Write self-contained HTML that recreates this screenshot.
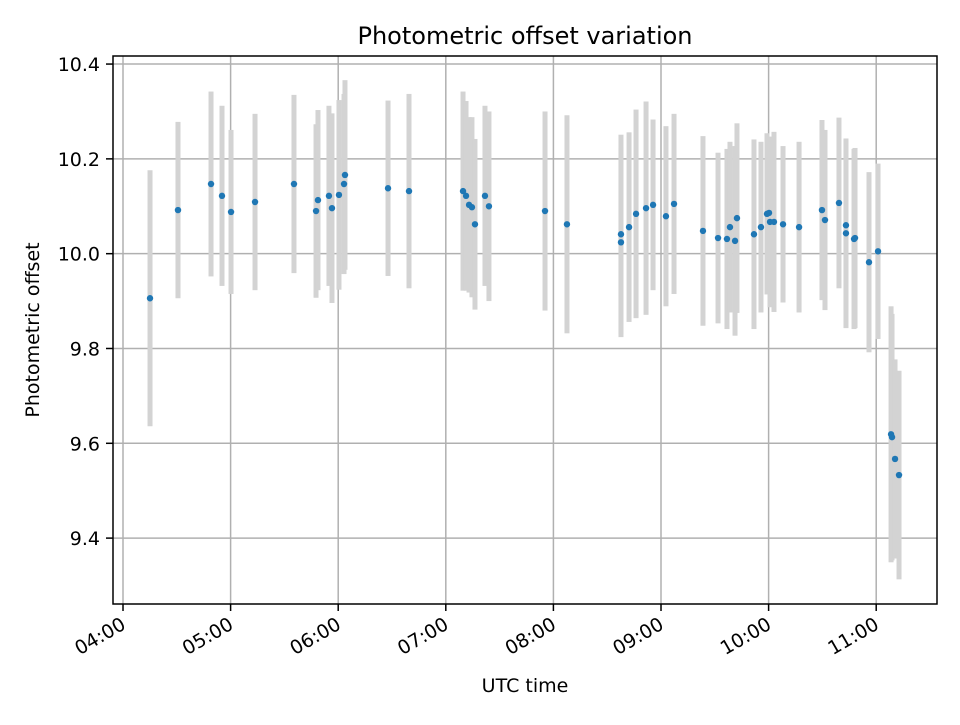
<!DOCTYPE html>
<html><head><meta charset="utf-8"><style>
body{margin:0;background:#fff}
svg text{font-family:"DejaVu Sans","Liberation Sans",sans-serif;fill:#000}
</style></head><body>
<svg id="chart" width="960" height="720" xmlns="http://www.w3.org/2000/svg">
<rect width="960" height="720" fill="#fff"/>
<g id="grid"></g><g id="bars"></g><g id="points"></g><g id="axes"></g>
<text x="525" y="44" font-size="24" text-anchor="middle">Photometric offset variation</text>
<text x="525" y="692" font-size="19" text-anchor="middle">UTC time</text>
<text transform="translate(39,330) rotate(-90)" font-size="19" text-anchor="middle">Photometric offset</text>
</svg>
<script>
const times=[4.251,4.511,4.818,4.920,5.004,5.227,5.589,5.794,5.812,5.914,5.942,6.007,6.054,6.063,6.463,6.658,7.160,7.188,7.216,7.243,7.271,7.364,7.401,7.922,8.126,8.628,8.628,8.703,8.768,8.861,8.926,9.046,9.121,9.390,9.530,9.613,9.641,9.688,9.706,9.864,9.929,9.985,10.004,10.013,10.050,10.134,10.283,10.496,10.524,10.654,10.719,10.719,10.794,10.803,10.933,11.017,11.138,11.147,11.175,11.212];
const offsets=[9.906,10.092,10.147,10.122,10.088,10.109,10.147,10.090,10.113,10.122,10.096,10.124,10.147,10.166,10.138,10.132,10.132,10.122,10.103,10.098,10.062,10.122,10.100,10.090,10.062,10.041,10.024,10.056,10.084,10.096,10.103,10.079,10.105,10.048,10.033,10.031,10.056,10.027,10.075,10.041,10.056,10.084,10.086,10.067,10.067,10.062,10.056,10.092,10.071,10.107,10.060,10.043,10.031,10.033,9.982,10.005,9.619,9.613,9.567,9.533];
const errors=[0.27,0.186,0.195,0.19,0.173,0.186,0.188,0.183,0.19,0.19,0.2,0.2,0.19,0.2,0.185,0.205,0.21,0.2,0.185,0.19,0.18,0.19,0.2,0.21,0.23,0.21,0.2,0.2,0.22,0.225,0.18,0.19,0.19,0.2,0.18,0.19,0.18,0.2,0.2,0.2,0.18,0.17,0.16,0.18,0.19,0.165,0.18,0.19,0.19,0.18,0.18,0.2,0.19,0.19,0.19,0.185,0.27,0.26,0.21,0.22];
const yTicks=[9.4,9.6,9.8,10.0,10.2,10.4];
const yTickLabels=["9.4","9.6","9.8","10.0","10.2","10.4"];
const xTicks=[4,5,6,7,8,9,10,11];
const xTickLabels=["04:00","05:00","06:00","07:00","08:00","09:00","10:00","11:00"];
const L=113,R=937,T=56,B=604,x0=3.907,x1=11.565,y0=9.261,y1=10.417;
const sx=t=>L+(t-x0)/(x1-x0)*(R-L);
const sy=v=>B-(v-y0)/(y1-y0)*(B-T);
const NS="http://www.w3.org/2000/svg";
function mk(tag,parent,attrs){const e=document.createElementNS(NS,tag);for(const k in attrs)e.setAttribute(k,attrs[k]);parent.appendChild(e);return e;}
const grid=document.getElementById('grid'),bars=document.getElementById('bars'),pts=document.getElementById('points'),axes=document.getElementById('axes');
yTicks.forEach((v,i)=>{const y=sy(v);
 const g=mk('line',grid,{x1:L,x2:R,y1:y,y2:y,stroke:'#b0b0b0','stroke-width':1.5});
 
 
 mk('line',axes,{x1:L-7,x2:L,y1:y,y2:y,stroke:'#000','stroke-width':1.5});
 const t=mk('text',axes,{x:L-13,y:y+7,'font-size':19,'text-anchor':'end'});t.textContent=yTickLabels[i];
 
 
});
xTicks.forEach((h,i)=>{const x=sx(h);
 const g=mk('line',grid,{x1:x,x2:x,y1:T,y2:B,stroke:'#b0b0b0','stroke-width':1.5});
 
 
 mk('line',axes,{x1:x,x2:x,y1:B,y2:B+7,stroke:'#000','stroke-width':1.5});
 const t=mk('text',axes,{x:0,y:0,'font-size':19,'text-anchor':'end',transform:`translate(${x+4},${B+24}) rotate(-30)`});t.textContent=xTickLabels[i];
 
 
});
times.forEach((t,i)=>{const x=sx(t);
 const b=mk('rect',bars,{x:x-2.5,y:sy(offsets[i]+errors[i]),width:5,height:sy(offsets[i]-errors[i])-sy(offsets[i]+errors[i]),fill:'#d3d3d3'});
 
 
 const c=mk('circle',pts,{cx:x,cy:sy(offsets[i]),r:3.2,fill:'#1f77b4'});
 
 
});
const fr=mk('rect',axes,{x:L,y:T,width:R-L,height:B-T,fill:'none',stroke:'#000','stroke-width':1.5});


</script>
</body></html>
